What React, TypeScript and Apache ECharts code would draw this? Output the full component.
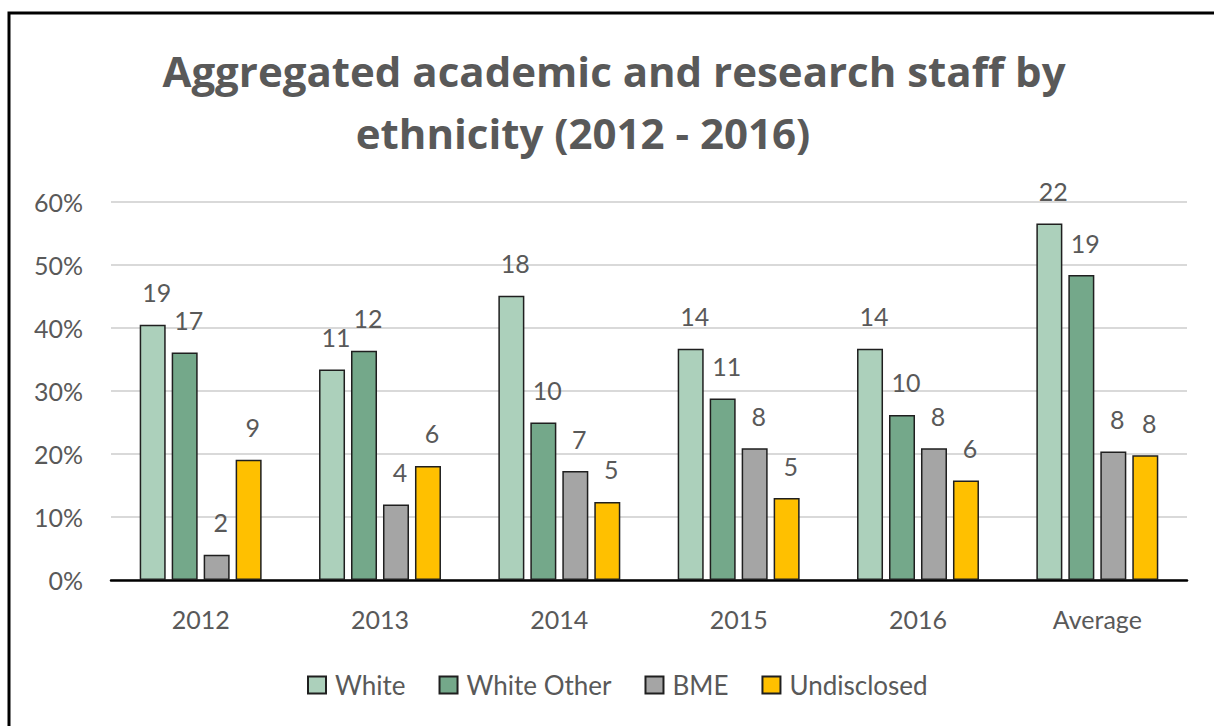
import React, { useEffect, useRef } from "react";
import * as echarts from "echarts";

const categories = ["2012", "2013", "2014", "2015", "2016", "Average"];
const seriesNames = ["White", "White Other", "BME", "Undisclosed"];
const whitePct = [40.5, 33.4, 45.1, 36.7, 36.7, 56.6];
const whiteOtherPct = [36.1, 36.4, 25.0, 28.8, 26.2, 48.4];
const bmePct = [4.0, 12.0, 17.3, 20.9, 20.9, 20.4];
const undisclosedPct = [19.1, 18.1, 12.4, 13.0, 15.8, 19.8];
const whiteCount = [19, 11, 18, 14, 14, 22];
const whiteOtherCount = [17, 12, 10, 11, 10, 19];
const bmeCount = [2, 4, 7, 8, 8, 8];
const undisclosedCount = [9, 6, 5, 5, 6, 8];
const titleLines = ["Aggregated academic and research staff by", "ethnicity (2012 - 2016)"];
const yMin = 0;
const yMax = 60;
const yInterval = 10;

const colors = ["#ACD0BB", "#74A88A", "#A5A5A5", "#FFC000"];
const FONT = "Lato, 'Open Sans', sans-serif";
const TITLE_FONT = "'Open Sans', Lato, sans-serif";
const TEXT = "#595959";

export default function App() {
  const ref = useRef<HTMLDivElement>(null);
  useEffect(() => {
    if (!ref.current) return;
    const chart = echarts.init(ref.current, null, { renderer: "svg" });
    const pcts = [whitePct, whiteOtherPct, bmePct, undisclosedPct];
    const counts = [whiteCount, whiteOtherCount, bmeCount, undisclosedCount];
    chart.setOption({
      animation: false,
      backgroundColor: "#ffffff",
      textStyle: { fontFamily: FONT },
      graphic: [
        {
          type: "rect",
          shape: { x: 9, y: 13, width: 1400, height: 900 },
          style: { fill: "none", stroke: "#000", lineWidth: 3 },
          silent: true,
        },
        {
          type: "text",
          x: 614,
          y: 70,
          style: {
            text: titleLines[0],
            fontSize: 42,
            fontWeight: "bold",
            fontFamily: TITLE_FONT,
            fill: TEXT,
            align: "center",
            verticalAlign: "middle",
          },
        },
        {
          type: "text",
          x: 583,
          y: 132,
          style: {
            text: titleLines[1],
            fontSize: 42,
            fontWeight: "bold",
            fontFamily: TITLE_FONT,
            fill: TEXT,
            align: "center",
            verticalAlign: "middle",
          },
        },
      ],
      grid: { left: 111, right: 27, top: 202, bottom: 146, containLabel: false },
      legend: {
        left: 302,
        top: 667,
        itemWidth: 18,
        itemHeight: 17,
        itemGap: 33,
        icon: "rect",
        textStyle: { color: TEXT, fontSize: 26, fontFamily: FONT, padding: [0, 0, 0, 4] },
        data: seriesNames,
      },
      xAxis: {
        type: "category",
        data: categories,
        axisLine: { lineStyle: { color: "#000", width: 2.5 } },
        axisTick: { show: false },
        axisLabel: { color: TEXT, fontSize: 25, fontFamily: FONT, margin: 26 },
      },
      yAxis: {
        type: "value",
        min: yMin,
        max: yMax,
        interval: yInterval,
        axisLine: { show: false },
        axisTick: { show: false },
        axisLabel: { color: TEXT, fontSize: 25, fontFamily: FONT, margin: 28, formatter: "{value}%" },
        splitLine: { lineStyle: { color: "#D9D9D9", width: 2 } },
      },
      series: seriesNames.map((name, i) => ({
        name,
        type: "bar",
        data: pcts[i],
        barWidth: 26,
        barGap: "23%",
        itemStyle: { color: colors[i], borderColor: "#1F1F1F", borderWidth: 1.5 },
        label: {
          show: true,
          position: "top",
          distance: 20,
          offset: [4, 0],
          color: TEXT,
          fontSize: 25,
          fontFamily: FONT,
          formatter: (p: any) => String(counts[i][p.dataIndex]),
        },
      })),
    });
    return () => chart.dispose();
  }, []);
  return (
    <div
      ref={ref}
      style={{ position: "fixed", left: 0, top: 0, width: 1214, height: 726 }}
    />
  );
}
